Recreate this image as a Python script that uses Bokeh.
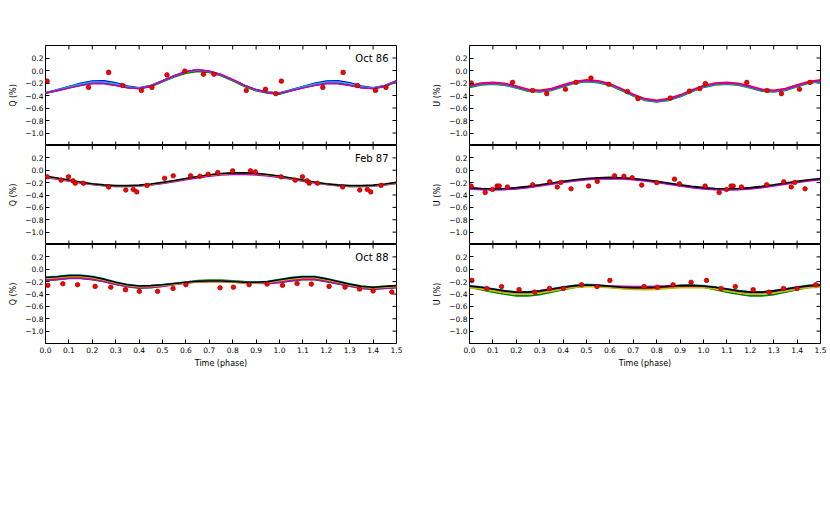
import math
from bokeh.plotting import figure
from bokeh.models import Range1d, LinearAxis, FixedTicker, Label, CustomJSTickFormatter
from bokeh.layouts import column, row
from bokeh.embed import file_html
from bokeh.resources import INLINE

FONT = "DejaVu Sans"

# ---------------- data ----------------
X_TICKS = [0.0, 0.1, 0.2, 0.3, 0.4, 0.5, 0.6, 0.7, 0.8, 0.9, 1.0, 1.1, 1.2, 1.3, 1.4, 1.5]
Y_TICKS = [-1.0, -0.8, -0.6, -0.4, -0.2, 0.0, 0.2]
X_MIN, X_MAX = 0.0, 1.5
Y_MIN, Y_MAX = -1.2, 0.4

# model curves sampled on a phase grid
CURVE_PHASE = [0.0, 0.05, 0.1, 0.15, 0.2, 0.25, 0.3, 0.35, 0.4, 0.45, 0.5, 0.55, 0.6, 0.65, 0.7,
               0.75, 0.8, 0.85, 0.9, 0.95, 1.0, 1.05, 1.1, 1.15, 1.2, 1.25, 1.3, 1.35, 1.4, 1.45, 1.5]

# Oct 86 Q
q86_b = [-0.355, -0.31, -0.255, -0.205, -0.17, -0.165, -0.195, -0.25, -0.275, -0.24, -0.165, -0.085, -0.02, 0.01, -0.015, -0.065, -0.15, -0.24, -0.31, -0.35, -0.36, -0.31, -0.255, -0.205, -0.17, -0.165, -0.195, -0.25, -0.275, -0.24, -0.165]
q86_g = [-0.365, -0.325, -0.275, -0.235, -0.205, -0.205, -0.235, -0.275, -0.29, -0.26, -0.18, -0.105, -0.045, -0.015, -0.03, -0.085, -0.165, -0.255, -0.325, -0.365, -0.378, -0.325, -0.275, -0.235, -0.205, -0.205, -0.235, -0.275, -0.29, -0.26, -0.18]
q86_r = [-0.36, -0.32, -0.27, -0.23, -0.2, -0.2, -0.23, -0.27, -0.285, -0.25, -0.17, -0.09, -0.025, 0.005, -0.02, -0.07, -0.15, -0.24, -0.31, -0.35, -0.365, -0.32, -0.27, -0.23, -0.2, -0.2, -0.23, -0.27, -0.285, -0.25, -0.17]
q86_c = [-0.358, -0.315, -0.262, -0.218, -0.185, -0.183, -0.213, -0.262, -0.28, -0.245, -0.168, -0.088, -0.022, 0.008, -0.017, -0.068, -0.15, -0.24, -0.31, -0.35, -0.362, -0.315, -0.262, -0.218, -0.185, -0.183, -0.213, -0.262, -0.28, -0.245, -0.168]
q86_m = [-0.36, -0.325, -0.28, -0.24, -0.21, -0.21, -0.24, -0.275, -0.288, -0.25, -0.168, -0.085, -0.018, 0.015, -0.01, -0.063, -0.145, -0.235, -0.305, -0.35, -0.365, -0.325, -0.28, -0.24, -0.21, -0.21, -0.24, -0.275, -0.288, -0.25, -0.168]

# Feb 87 Q
q87_c = [-0.106, -0.137, -0.17, -0.202, -0.229, -0.249, -0.26, -0.261, -0.252, -0.234, -0.208, -0.177, -0.144, -0.112, -0.085, -0.065, -0.054, -0.053, -0.062, -0.08, -0.106, -0.137, -0.17, -0.202, -0.229, -0.249, -0.26, -0.261, -0.252, -0.234, -0.208]
q87_m = [-0.116, -0.145, -0.176, -0.206, -0.231, -0.249, -0.26, -0.261, -0.253, -0.237, -0.213, -0.184, -0.153, -0.123, -0.098, -0.078, -0.067, -0.066, -0.075, -0.092, -0.116, -0.145, -0.176, -0.206, -0.231, -0.249, -0.26, -0.261, -0.253, -0.237, -0.213]
q87_y = [-0.1, -0.131, -0.164, -0.196, -0.223, -0.243, -0.254, -0.255, -0.246, -0.228, -0.202, -0.171, -0.138, -0.106, -0.079, -0.059, -0.048, -0.047, -0.056, -0.074, -0.1, -0.131, -0.164, -0.196, -0.223, -0.243, -0.254, -0.255, -0.246, -0.228, -0.202]
q87_k = [-0.094, -0.125, -0.158, -0.19, -0.217, -0.237, -0.248, -0.249, -0.24, -0.222, -0.196, -0.165, -0.132, -0.1, -0.073, -0.053, -0.042, -0.041, -0.05, -0.068, -0.094, -0.125, -0.158, -0.19, -0.217, -0.237, -0.248, -0.249, -0.24, -0.222, -0.196]

# Oct 88 Q
q88_g = [-0.184, -0.17, -0.15, -0.15, -0.168, -0.203, -0.246, -0.284, -0.305, -0.298, -0.276, -0.242, -0.205, -0.182, -0.175, -0.176, -0.186, -0.2, -0.212, -0.228, -0.215, -0.19, -0.17, -0.17, -0.2, -0.237, -0.275, -0.312, -0.325, -0.312, -0.3]
q88_r = [-0.161, -0.147, -0.127, -0.127, -0.147, -0.185, -0.232, -0.27, -0.29, -0.285, -0.27, -0.245, -0.222, -0.207, -0.202, -0.202, -0.209, -0.222, -0.225, -0.222, -0.195, -0.167, -0.147, -0.147, -0.18, -0.22, -0.26, -0.297, -0.31, -0.297, -0.285]
q88_c = [-0.126, -0.112, -0.092, -0.092, -0.112, -0.155, -0.205, -0.245, -0.267, -0.262, -0.247, -0.228, -0.208, -0.193, -0.188, -0.188, -0.195, -0.207, -0.205, -0.193, -0.162, -0.132, -0.112, -0.112, -0.148, -0.192, -0.236, -0.273, -0.287, -0.274, -0.262]
q88_m = [-0.179, -0.165, -0.145, -0.145, -0.163, -0.198, -0.242, -0.28, -0.3, -0.295, -0.278, -0.25, -0.22, -0.2, -0.195, -0.195, -0.203, -0.218, -0.225, -0.235, -0.212, -0.185, -0.165, -0.165, -0.195, -0.232, -0.27, -0.307, -0.32, -0.307, -0.295]
q88_y = [-0.149, -0.135, -0.115, -0.115, -0.135, -0.175, -0.223, -0.262, -0.282, -0.277, -0.262, -0.24, -0.218, -0.203, -0.198, -0.198, -0.205, -0.218, -0.22, -0.213, -0.185, -0.155, -0.135, -0.135, -0.17, -0.21, -0.252, -0.289, -0.302, -0.29, -0.277]
q88_k = [-0.134, -0.12, -0.1, -0.1, -0.12, -0.16, -0.21, -0.25, -0.27, -0.265, -0.25, -0.23, -0.21, -0.195, -0.19, -0.19, -0.197, -0.21, -0.21, -0.2, -0.17, -0.14, -0.12, -0.12, -0.155, -0.197, -0.24, -0.277, -0.29, -0.277, -0.265]

# Oct 86 U
u86_g = [-0.27, -0.23, -0.22, -0.235, -0.28, -0.33, -0.345, -0.32, -0.26, -0.205, -0.18, -0.195, -0.24, -0.32, -0.41, -0.48, -0.505, -0.48, -0.42, -0.34, -0.27, -0.23, -0.22, -0.235, -0.28, -0.33, -0.345, -0.32, -0.26, -0.205, -0.18]
u86_r = [-0.24, -0.2, -0.19, -0.205, -0.25, -0.3, -0.315, -0.29, -0.23, -0.175, -0.15, -0.165, -0.21, -0.29, -0.38, -0.45, -0.475, -0.45, -0.39, -0.31, -0.24, -0.2, -0.19, -0.205, -0.25, -0.3, -0.315, -0.29, -0.23, -0.175, -0.15]
u86_c = [-0.26, -0.22, -0.21, -0.225, -0.27, -0.32, -0.335, -0.31, -0.25, -0.195, -0.17, -0.185, -0.23, -0.31, -0.4, -0.47, -0.495, -0.47, -0.41, -0.33, -0.26, -0.22, -0.21, -0.225, -0.27, -0.32, -0.335, -0.31, -0.25, -0.195, -0.17]
u86_m = [-0.252, -0.212, -0.202, -0.217, -0.262, -0.312, -0.327, -0.302, -0.242, -0.187, -0.162, -0.177, -0.222, -0.302, -0.392, -0.462, -0.487, -0.462, -0.402, -0.322, -0.252, -0.212, -0.202, -0.217, -0.262, -0.312, -0.327, -0.302, -0.242, -0.187, -0.162]

# Feb 87 U
u87_c = [-0.293, -0.306, -0.311, -0.306, -0.293, -0.273, -0.247, -0.219, -0.191, -0.165, -0.145, -0.132, -0.127, -0.132, -0.145, -0.165, -0.191, -0.219, -0.247, -0.273, -0.293, -0.306, -0.311, -0.306, -0.293, -0.273, -0.247, -0.219, -0.191, -0.165, -0.145]
u87_m = [-0.301, -0.314, -0.319, -0.314, -0.301, -0.281, -0.255, -0.227, -0.199, -0.173, -0.153, -0.14, -0.135, -0.14, -0.153, -0.173, -0.199, -0.227, -0.255, -0.281, -0.301, -0.314, -0.319, -0.314, -0.301, -0.281, -0.255, -0.227, -0.199, -0.173, -0.153]
u87_k = [-0.281, -0.294, -0.299, -0.294, -0.281, -0.261, -0.235, -0.207, -0.179, -0.153, -0.133, -0.12, -0.115, -0.12, -0.133, -0.153, -0.179, -0.207, -0.235, -0.261, -0.281, -0.294, -0.299, -0.294, -0.281, -0.261, -0.235, -0.207, -0.179, -0.153, -0.133]

# Oct 88 U
u88_g = [-0.29, -0.33, -0.37, -0.405, -0.43, -0.43, -0.41, -0.37, -0.33, -0.295, -0.275, -0.275, -0.29, -0.305, -0.31, -0.31, -0.3, -0.285, -0.275, -0.275, -0.29, -0.33, -0.37, -0.405, -0.43, -0.43, -0.41, -0.37, -0.33, -0.295, -0.275]
u88_r = [-0.285, -0.305, -0.34, -0.37, -0.39, -0.39, -0.37, -0.34, -0.305, -0.28, -0.27, -0.275, -0.29, -0.305, -0.315, -0.315, -0.305, -0.29, -0.28, -0.275, -0.285, -0.305, -0.34, -0.37, -0.39, -0.39, -0.37, -0.34, -0.305, -0.28, -0.27]
u88_c = [-0.265, -0.285, -0.315, -0.345, -0.365, -0.365, -0.345, -0.315, -0.285, -0.258, -0.245, -0.25, -0.27, -0.285, -0.295, -0.295, -0.285, -0.27, -0.26, -0.255, -0.265, -0.285, -0.315, -0.345, -0.365, -0.365, -0.345, -0.315, -0.285, -0.258, -0.245]
u88_m = [-0.28, -0.3, -0.33, -0.36, -0.38, -0.38, -0.36, -0.33, -0.3, -0.275, -0.265, -0.265, -0.27, -0.275, -0.28, -0.28, -0.275, -0.27, -0.265, -0.265, -0.28, -0.3, -0.33, -0.36, -0.38, -0.38, -0.36, -0.33, -0.3, -0.275, -0.265]
u88_y = [-0.3, -0.32, -0.35, -0.38, -0.4, -0.4, -0.385, -0.355, -0.32, -0.295, -0.28, -0.285, -0.3, -0.315, -0.325, -0.33, -0.325, -0.31, -0.3, -0.295, -0.3, -0.32, -0.35, -0.38, -0.4, -0.4, -0.385, -0.355, -0.32, -0.3, -0.29]
u88_k = [-0.27, -0.29, -0.32, -0.35, -0.37, -0.37, -0.35, -0.32, -0.29, -0.265, -0.255, -0.26, -0.275, -0.29, -0.3, -0.3, -0.29, -0.275, -0.265, -0.26, -0.27, -0.29, -0.32, -0.35, -0.37, -0.37, -0.35, -0.32, -0.29, -0.265, -0.255]

# observations (phase, value, error)
ph86 = [0.007, 0.184, 0.27, 0.33, 0.41, 0.455, 0.519, 0.595, 0.675, 0.72, 0.858, 0.94, 0.984, 1.008, 1.185, 1.272, 1.333, 1.41, 1.455]
q86 = [-0.17, -0.27, -0.03, -0.24, -0.32, -0.27, -0.07, -0.01, -0.06, -0.06, -0.32, -0.3, -0.37, -0.17, -0.27, -0.03, -0.24, -0.32, -0.27]
q86_err = [0.015, 0.015, 0.04, 0.015, 0.015, 0.015, 0.015, 0.015, 0.015, 0.015, 0.015, 0.015, 0.015, 0.015, 0.015, 0.04, 0.015, 0.015, 0.015]
u86 = [-0.2, -0.19, -0.32, -0.37, -0.3, -0.19, -0.12, -0.22, -0.335, -0.45, -0.44, -0.33, -0.29, -0.21, -0.19, -0.32, -0.37, -0.3, -0.19]
u86_err = [0.025, 0.015, 0.03, 0.015, 0.015, 0.015, 0.015, 0.015, 0.015, 0.015, 0.015, 0.015, 0.015, 0.025, 0.015, 0.03, 0.015, 0.015, 0.015]

ph87 = [0.007, 0.067, 0.098, 0.118, 0.127, 0.162, 0.27, 0.343, 0.375, 0.39, 0.434, 0.509, 0.546, 0.62, 0.66, 0.695, 0.736, 0.8, 0.876, 0.897,
        1.007, 1.067, 1.098, 1.118, 1.127, 1.162, 1.27, 1.343, 1.375, 1.39, 1.434, 1.509]
q87 = [-0.106, -0.16, -0.106, -0.17, -0.21, -0.21, -0.27, -0.32, -0.31, -0.35, -0.245, -0.13, -0.09, -0.09, -0.096, -0.064, -0.037, -0.01, -0.01, -0.027,
       -0.106, -0.16, -0.106, -0.17, -0.21, -0.21, -0.27, -0.32, -0.31, -0.35, -0.245, -0.13]
q87_err = [0.012] * 32
u87 = [-0.255, -0.36, -0.31, -0.255, -0.255, -0.27, -0.234, -0.186, -0.27, -0.197, -0.3, -0.255, -0.18, -0.09, -0.096, -0.12, -0.24, -0.2, -0.144, -0.22,
       -0.255, -0.36, -0.31, -0.255, -0.255, -0.27, -0.234, -0.186, -0.27, -0.197, -0.3, -0.255]
u87_err = [0.012] * 32

ph88 = [0.01, 0.074, 0.137, 0.212, 0.279, 0.342, 0.401, 0.479, 0.545, 0.6, 0.746, 0.803, 0.87, 0.947,
        1.013, 1.075, 1.136, 1.212, 1.28, 1.342, 1.4, 1.48]
q88 = [-0.26, -0.235, -0.25, -0.277, -0.29, -0.33, -0.357, -0.357, -0.31, -0.25, -0.3, -0.29, -0.25, -0.24,
       -0.26, -0.23, -0.24, -0.277, -0.29, -0.32, -0.35, -0.367]
q88_err = [0.015, 0.015, 0.015, 0.015, 0.015, 0.035, 0.015, 0.015, 0.015, 0.015, 0.015, 0.015, 0.015, 0.015,
           0.015, 0.015, 0.015, 0.015, 0.015, 0.035, 0.015, 0.015]
u88 = [-0.18, -0.31, -0.28, -0.33, -0.37, -0.31, -0.31, -0.25, -0.28, -0.18, -0.28, -0.29, -0.25, -0.21,
       -0.18, -0.31, -0.28, -0.33, -0.37, -0.31, -0.31, -0.25]
u88_err = [0.015, 0.015, 0.015, 0.03, 0.015, 0.03, 0.015, 0.015, 0.015, 0.015, 0.015, 0.015, 0.015, 0.015,
           0.015, 0.015, 0.015, 0.03, 0.015, 0.03, 0.015, 0.015]

EPOCHS = ["Oct 86", "Feb 87", "Oct 88"]

COL = {"b": "#0000ff", "g": "#008000", "r": "#ff0000", "c": "#00bfbf",
       "m": "#bf00bf", "y": "#bfbf00", "k": "#000000"}

# ---------------- drawing ----------------
fmt = CustomJSTickFormatter(code="return tick.toFixed(1).replace('-', '\u2212');")


def make_axis(ticks, axis_label):
    ax = LinearAxis(ticker=FixedTicker(ticks=ticks), formatter=fmt,
                    axis_line_color=None, major_tick_in=4, major_tick_out=0,
                    minor_tick_in=0, minor_tick_out=0,
                    major_tick_line_color="black", major_tick_line_width=1,
                    major_label_text_font=FONT, major_label_text_font_size="7.5px",
                    major_label_text_color="black", major_label_standoff=2,
                    axis_label=axis_label, axis_label_text_font=FONT,
                    axis_label_text_font_size="8px", axis_label_text_font_style="normal",
                    axis_label_text_color="black", axis_label_standoff=4)
    return ax


def panel(frame_h, border_top, border_bottom, left_col, ylabel, curves, ph, vals, errs, tag, bottom):
    p = figure(frame_width=351, frame_height=frame_h,
               x_range=Range1d(X_MIN, X_MAX), y_range=Range1d(Y_MIN, Y_MAX),
               x_axis_location=None, y_axis_location=None,
               output_backend="svg", toolbar_location=None,
               min_border_left=45 if left_col else 37, min_border_right=34 if left_col else 8,
               min_border_top=border_top, min_border_bottom=border_bottom,
               background_fill_color="white", border_fill_color="white")
    p.outline_line_color = "black"
    p.outline_line_width = 1
    p.xgrid.visible = False
    p.ygrid.visible = False

    p.add_layout(make_axis(Y_TICKS, ylabel), "left")
    if bottom:
        bax = make_axis(X_TICKS, "Time (phase)")
        bax.major_label_standoff = 3
        bax.axis_label_standoff = 3
        p.add_layout(bax, "below")

    # inward tick marks on the unlabelled sides (half of each dash is clipped by the frame)
    p.scatter(X_TICKS, [Y_MAX] * len(X_TICKS), marker="dash", angle=math.pi / 2, size=8,
              line_color="black", line_width=1)
    if not bottom:
        p.scatter(X_TICKS, [Y_MIN] * len(X_TICKS), marker="dash", angle=math.pi / 2, size=8,
                  line_color="black", line_width=1)
    p.scatter([X_MAX] * len(Y_TICKS), Y_TICKS, marker="dash", size=8,
              line_color="black", line_width=1)

    for key, arr in curves:
        p.line(CURVE_PHASE, arr, line_color=COL[key], line_width=1.6)

    lo = [v - e for v, e in zip(vals, errs)]
    hi = [v + e for v, e in zip(vals, errs)]
    p.segment(x0=ph, y0=lo, x1=ph, y1=hi, line_color="#ff7f7f", line_alpha=0.55, line_width=5)
    p.scatter(ph, vals, marker="circle", size=4.6, fill_color="#ff0000",
              line_color="#7a0000", line_width=0.6)

    if tag:
        p.add_layout(Label(x=1.466, y=0.185, text=tag, text_align="right", text_baseline="middle",
                           text_font=FONT, text_font_size="10px", text_color="black"))
    return p


q_curves = [
    [("b", q86_b), ("g", q86_g), ("r", q86_r), ("c", q86_c), ("m", q86_m)],
    [("c", q87_c), ("m", q87_m), ("y", q87_y), ("k", q87_k)],
    [("g", q88_g), ("r", q88_r), ("c", q88_c), ("m", q88_m), ("y", q88_y), ("k", q88_k)],
]
u_curves = [
    [("g", u86_g), ("r", u86_r), ("c", u86_c), ("m", u86_m)],
    [("c", u87_c), ("m", u87_m), ("k", u87_k)],
    [("g", u88_g), ("r", u88_r), ("c", u88_c), ("m", u88_m), ("y", u88_y), ("k", u88_k)],
]
q_obs = [(ph86, q86, q86_err), (ph87, q87, q87_err), (ph88, q88, q88_err)]
u_obs = [(ph86, u86, u86_err), (ph87, u87, u87_err), (ph88, u88, u88_err)]

frame_hs = [100, 99, 99]
tops = [45, 0, 0]
bottoms = [0, 0, 40]

rows = []
for i in range(3):
    last = (i == 2)
    pq = panel(frame_hs[i], tops[i], bottoms[i], True, "Q (%)", q_curves[i],
               q_obs[i][0], q_obs[i][1], q_obs[i][2], EPOCHS[i], last)
    pu = panel(frame_hs[i], tops[i], bottoms[i], False, "U (%)", u_curves[i],
               u_obs[i][0], u_obs[i][1], u_obs[i][2], None, last)
    rows.append(row(pq, pu))

layout = column(*rows)
open("out.html", "w").write(file_html(layout, INLINE))
